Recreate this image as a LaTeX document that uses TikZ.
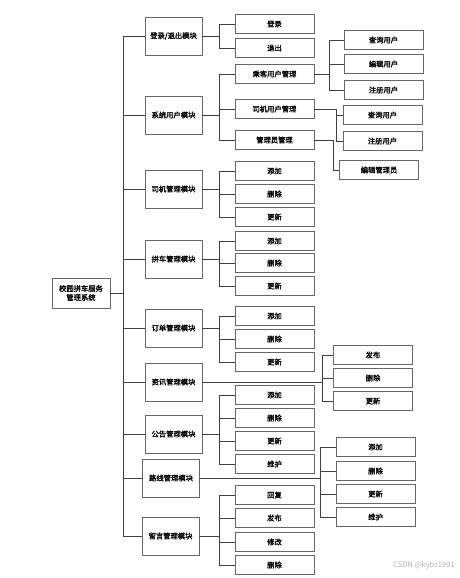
\documentclass[tikz,border=0pt]{standalone}
\usepackage{fontspec}
\newfontfamily\cjk[AutoFakeBold=1.6]{Noto Sans CJK SC}
\usetikzlibrary{positioning,calc}
\tikzset{
  link/.style={draw=black!75, line width=0.8pt},
  anybox/.style={draw=black!60, line width=0.9pt, fill=white, inner sep=0pt,
    align=center, font=\cjk\bfseries\fontsize{7.3}{9}\selectfont},
  rootbox/.style={anybox, minimum width=58pt, minimum height=30pt},
  modbox/.style={anybox, minimum width=57pt, minimum height=38pt},
  leafbox/.style={anybox, minimum width=79pt, minimum height=19pt},
}
\newcommand{\subs}[4]{% \subs{parent}{gap}{x}{y/text list}
  \foreach \y/\t [count=\i] in {#4} {
    \node[leafbox] (#1-\i) at (#3,\y) {\t};
    \draw[link] (#1.east) -| ([xshift=-#2]#1-\i.west) -- (#1-\i.west);
  }}

\begin{document}
\begin{tikzpicture}[x=1pt,y=-1pt]
  \useasboundingbox (0,0) rectangle (460,578);
  \coordinate (trunk) at (123,0);
  % root and modules
  \node[rootbox] (root) at (81,293) {校园拼车服务\\管理系统};
  \node[modbox] (login) at (173.5,36) {登录/退出模块};
  \node[modbox] (sysuser) at (173.5,115) {系统用户模块};
  \node[modbox] (driver) at (173.5,189) {司机管理模块};
  \node[modbox] (carpool) at (173.5,259) {拼车管理模块};
  \node[modbox] (order) at (173.5,328) {订单管理模块};
  \node[modbox] (news) at (173.5,382) {资讯管理模块};
  \node[modbox] (notice) at (173.5,434) {公告管理模块};
  \node[modbox] (route) at (171,478) {路线管理模块};
  \node[modbox] (msg) at (170.5,536) {留言管理模块};
  \foreach \m in {login,sysuser,driver,carpool,order,news,notice,route,msg}
    \draw[link] (root.east) -| (trunk |- \m.west) -- (\m.west);
  % second level
  \subs{login}{15pt}{274.5}{24/登录,48/退出}
  \subs{sysuser}{15pt}{274.5}{74/乘客用户管理,109/司机用户管理,140/管理员管理}
  \subs{driver}{15pt}{274.5}{171/添加,194/删除,217/更新}
  \subs{carpool}{15pt}{274.5}{241/添加,263/删除,286/更新}
  \subs{order}{15pt}{274.5}{316/添加,339/删除,362/更新}
  \subs{notice}{15pt}{274.5}{395/添加,418/删除,441/更新,464/维护}
  \subs{msg}{15pt}{274.5}{495/回复,518/发布,542/修改,565/删除}
  % third level
  \subs{sysuser-1}{14pt}{383.5}{40/查询用户,64/编辑用户,90/注册用户}
  \subs{sysuser-2}{6pt}{382.5}{115/查询用户,141/注册用户}
  \subs{sysuser-3}{6pt}{379}{170/编辑管理员}
  \subs{news}{11pt}{373}{355/发布,378/删除,401/更新}
  \subs{route}{15pt}{375.5}{447/添加,471/删除,494/更新,517/维护}
  % watermark
  \node[text=black!30, font=\cjk\fontsize{7.5}{8}\selectfont, anchor=east] (mark) at (458,565) {CSDN @kybs1991};
\end{tikzpicture}
\end{document}
